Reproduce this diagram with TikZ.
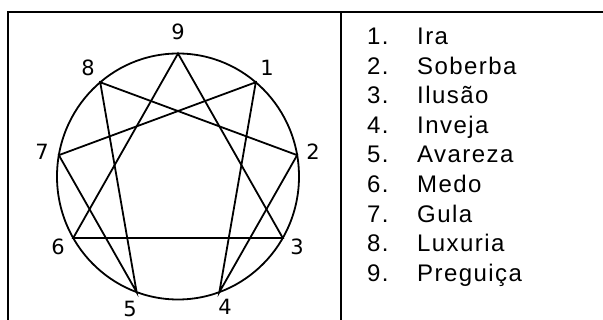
\documentclass[tikz,border=0pt]{standalone}
\usepackage{fontspec}
\usetikzlibrary{calc}
\setmainfont{Liberation Sans}
\newfontfamily\digitfont{DejaVu Sans}
\newfontfamily\listfont[LetterSpace=6]{Liberation Sans}
\begin{document}
\begin{tikzpicture}[x=1pt,y=-1pt,
  frame/.style={line width=2pt, line cap=rect},
  starline/.style={line width=1.8pt, line join=miter},
  numlabel/.style={font=\digitfont\fontsize{21}{21}\selectfont, inner sep=0pt},
  listnum/.style={font=\listfont\fontsize{24}{24}\selectfont, anchor=base west, inner sep=0pt},
  listtxt/.style={font=\listfont\fontsize{24}{24}\selectfont, anchor=base west, inner sep=0pt}]
\useasboundingbox (0,0) rectangle (603,320);
% frame
\coordinate (tl) at (8,12);
\coordinate (tr) at (604,12);
\coordinate (bl) at (8,322);
\coordinate (mt) at (341,12);
\coordinate (mb) at (341,322);
\draw[frame] (bl) -- (tl) -- (tr);
\draw[line width=1.6pt] (mt) -- (mb);
% enneagram
\coordinate (c) at (178,176.5);
\draw[starline] (c) ellipse [x radius=121, y radius=123];
\foreach \k in {1,...,9} {
  \coordinate (p\k) at ($(c)+({121*cos(90-40*\k)},{-123*sin(90-40*\k)})$);
}
\draw[starline] (p9) -- (p3) -- (p6) -- cycle;
\draw[starline] (p1) -- (p4) -- (p2) -- (p8) -- (p5) -- (p7) -- cycle;
% point labels
\node[numlabel] (l9) at (178,32) {9};
\node[numlabel] (l1) at (267,68) {1};
\node[numlabel] (l2) at (313,152) {2};
\node[numlabel] (l3) at (297,247) {3};
\node[numlabel] (l4) at (225,307) {4};
\node[numlabel] (l5) at (130,308.5) {5};
\node[numlabel] (l6) at (58,247) {6};
\node[numlabel] (l7) at (42,152) {7};
\node[numlabel] (l8) at (88,68) {8};
% list
\foreach \n/\t [count=\i from 0] in {1/Ira, 2/Soberba, 3/Ilusão, 4/Inveja, 5/Avareza, 6/Medo, 7/Gula, 8/Luxuria, 9/Preguiça} {
  \node[listnum] (n\n) at (367,{44.5+29.6*\i}) {\n.};
  \node[listtxt] (t\n) at (417,{44.5+29.6*\i}) {\t};
}
\end{tikzpicture}
\end{document}
